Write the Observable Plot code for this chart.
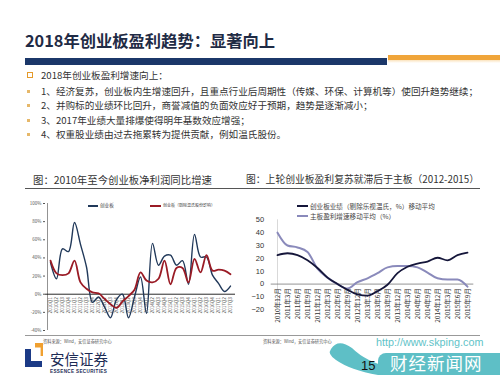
<!DOCTYPE html>
<html><head><meta charset="utf-8">
<script src="https://cdn.jsdelivr.net/npm/d3@7"></script>
<script src="https://cdn.jsdelivr.net/npm/@observablehq/plot@0.6"></script>
<style>
html,body{margin:0;padding:0;}
body{width:500px;height:375px;position:relative;overflow:hidden;background:#fff;font-family:"Noto Sans CJK SC","Noto Sans",sans-serif;}
.a{position:absolute;white-space:nowrap;}
.b{font-size:9.6px;color:#333;line-height:12px;left:41px;}
.dot{position:absolute;left:27px;width:2.5px;height:2.5px;background:#e6b86a;}
svg{overflow:visible;}
</style></head><body>
<script>
// ---- data ----
const leftCategories = ["2010Q1","2010Q2","2010Q3","2010Q4","2011Q1","2011Q2","2011Q3","2011Q4","2012Q1","2012Q2","2012Q3","2012Q4","2013Q1","2013Q2","2013Q3","2013Q4","2014Q1","2014Q2","2014Q3","2014Q4","2015Q1","2015Q2","2015Q3","2015Q4","2016Q1","2016Q2","2016Q3","2016Q4","2017Q1","2017Q2","2017Q3"];
const gemGrowth = [35,17,50,47,79,55,30,-9,-3,-14,-26,-6,0,-26,-3,19,-21,56,32,42,43,32,37,11,66,41,41,21,12,3,9];
const gemExWensGrowth = [37,23,21,23,37,13,6,2,1,-5,-11,-15,-8,-2,5,24,15,13,17,37,11,29,29,13,39,24,43,26,27,26,22];
const leftYTicks = [-40,-20,0,20,40,60,80,100];
const leftSeriesNames = ["创业板","创业板（剔除温氏股份影响）"];

const rightCategories = ["2010年12月","2011年3月","2011年6月","2011年9月","2011年12月","2012年3月","2012年6月","2012年9月","2012年12月","2013年3月","2013年6月","2013年9月","2013年12月","2014年3月","2014年6月","2014年9月","2014年12月","2015年3月","2015年6月","2015年9月"];
const gemMovingAvg = [22.5,24,22.5,18.5,12.5,5,0,-4.5,-8,-9,-5.5,-0.5,8.5,13.5,16,17.5,20.5,18.5,22.5,24.5];
const mainBoardMovingAvg = [40,30,28.5,25,12,5,0,-3.5,1.5,4.5,8.5,13,14,14,13,9,4.5,3.5,3.5,-2];
const rightYTicks = [-20,-10,0,10,20,30,40,50];
const rightSeriesNames = ["创业板业绩（剔除乐视温氏，%）移动平均","主板盈利增速移动平均（%）"];

const blue = "#21395a", red = "#9a1b25", dark = "#15163a", lav = "#8a8abb";
</script>

<!-- title and header bars -->
<div class="a" style="left:25px;top:29px;font-size:16.3px;font-weight:bold;color:#1f2b45;line-height:22px;">2018年创业板盈利趋势：显著向上</div>
<div class="a" style="left:25px;top:58px;width:362px;height:7px;background:#1b3769;"></div>
<div class="a" style="left:388px;top:55px;width:112px;height:5px;background:#f0a53a;"></div>
<div class="a" style="left:388px;top:60px;width:112px;height:3px;background:linear-gradient(#fbe3bd,#fff);"></div>

<!-- bullets -->
<div class="a" style="left:27px;top:72px;width:4px;height:4px;border:1.3px solid #e59a2a;"></div>
<div class="a b" style="top:69px;">2018年创业板盈利增速向上：</div>
<div class="dot" style="top:90px;"></div>
<div class="a b" style="top:85px;">1、经济复苏，创业板内生增速回升，且重点行业后周期性（传媒、环保、计算机等）使回升趋势继续；</div>
<div class="dot" style="top:104px;"></div>
<div class="a b" style="top:99px;">2、并购标的业绩环比回升，商誉减值的负面效应好于预期，趋势是逐渐减小；</div>
<div class="dot" style="top:119px;"></div>
<div class="a b" style="top:114px;">3、2017年业绩大量排爆使得明年基数效应增强；</div>
<div class="dot" style="top:133px;"></div>
<div class="a b" style="top:128px;">4、权重股业绩由过去拖累转为提供贡献，例如温氏股份。</div>

<!-- chart titles -->
<div class="a" style="left:33px;top:173px;font-size:10.4px;color:#333;line-height:14px;">图：2010年至今创业板净利润同比增速</div>
<div class="a" style="left:246px;top:172px;font-size:9.8px;color:#333;line-height:14px;">图：上轮创业板盈利复苏就滞后于主板（2012-2015）</div>
<div class="a" style="left:25px;top:188px;width:455px;height:1px;background:#555;"></div>

<div id="left" class="a" style="left:20px;top:195px;"></div>
<div id="right" class="a" style="left:250px;top:195px;"></div>

<!-- legends -->
<div id="legL1" class="a" style="left:88px;top:202px;font-size:4.6px;color:#444;line-height:7px;"></div>
<div id="legL2" class="a" style="left:150px;top:202px;font-size:4px;color:#444;line-height:7px;"></div>
<div id="legR1" class="a" style="left:297px;top:201px;font-size:6.6px;color:#444;line-height:9px;"></div>
<div id="legR2" class="a" style="left:297px;top:211px;font-size:6.6px;color:#444;line-height:9px;"></div>

<!-- footer -->
<div class="a" style="left:25px;top:335px;width:455px;height:1px;background:#999;"></div>
<div class="a" style="left:43px;top:339px;font-size:4.2px;color:#555;line-height:5px;">资料来源：Wind，安信证券研究中心</div>
<div class="a" style="left:263px;top:339px;font-size:4.2px;color:#555;line-height:5px;">资料来源：Wind，安信证券研究中心</div>

<div class="a" style="left:25px;top:349px;width:6px;height:18px;background:#1b3a86;"></div>
<div class="a" style="left:25px;top:361px;width:17px;height:6px;background:#1b3a86;"></div>
<div class="a" style="left:35px;top:343px;width:8px;height:13px;background:#f0a030;clip-path:polygon(0 0,100% 0,100% 100%,70% 100%,70% 35%,0 35%);"></div>
<div class="a" style="left:50px;top:351px;font-size:14.5px;color:#1d2c55;line-height:15px;">安信证券</div>
<div class="a" style="left:50px;top:368.5px;font-size:4.6px;font-weight:bold;color:#1d2c55;line-height:5px;letter-spacing:0.35px;font-family:'Liberation Sans',sans-serif;">ESSENCE SECURITIES</div>

<svg class="a" style="left:0;top:0;" width="500" height="375">
  <path d="M331,349 Q338,338 352,348 Q366,362 392,368 L392,375 L378,375 Q350,370 336,360 Q327,354 331,349 Z" fill="#5ebfc6"/>
</svg>
<div class="a" style="left:378px;top:353px;width:122px;height:22px;background:#5ebfc6;border-radius:8px 0 0 8px;"></div>
<div class="a" style="left:376px;top:337px;font-size:10.8px;color:#5fc3c8;line-height:11px;font-family:'Liberation Sans',sans-serif;">http://www.skping.com</div>
<div class="a" style="left:390px;top:354px;font-size:17.5px;color:#fff;line-height:17px;letter-spacing:1px;">财经新闻网</div>
<div class="a" style="left:361px;top:358px;font-size:13px;color:#111;line-height:15px;font-family:'Liberation Sans',sans-serif;">15</div>

<script>
const cjk = "'Noto Sans CJK SC','Noto Sans',sans-serif";
const leftData = leftCategories.map((c, i) => ({c, gem: gemGrowth[i], ex: gemExWensGrowth[i]}));
const leftPlot = Plot.plot({
  width: 230, height: 140,
  marginLeft: 25, marginRight: 15, marginTop: 8, marginBottom: 5,
  x: {type: "point", domain: leftCategories, padding: 0.5, axis: null},
  y: {domain: [-40, 100], axis: null},
  style: {fontFamily: cjk, background: "transparent", overflow: "visible"},
  marks: [
    Plot.ruleX([leftCategories[0]], {dx: -3, stroke: "#777", strokeWidth: 0.8}),
    Plot.axisY({ticks: leftYTicks, tickFormat: d => d + "%", tickSize: 2, tickPadding: 2, fontSize: 4.5, color: "#555"}),
    Plot.ruleY([0], {stroke: "#111", strokeWidth: 0.9}),
    Plot.text(leftCategories, {x: d => d, y: 0, text: d => d, rotate: -90, textAnchor: "end", dy: 3, fontSize: 4.6, fill: "#555"}),
    Plot.line(leftData, {x: "c", y: "gem", stroke: blue, strokeWidth: 1.4, curve: "catmull-rom"}),
    Plot.line(leftData, {x: "c", y: "ex", stroke: red, strokeWidth: 1.8, curve: "catmull-rom"})
  ]
});
document.getElementById("left").appendChild(leftPlot);

const rightData = rightCategories.map((c, i) => ({c, gem: gemMovingAvg[i], main: mainBoardMovingAvg[i]}));
const rightPlot = Plot.plot({
  width: 240, height: 140,
  marginLeft: 20.7, marginRight: 16.7, marginTop: 24.3, marginBottom: 25.7,
  x: {type: "point", domain: rightCategories, padding: 0, axis: null},
  y: {domain: [-20, 50], axis: null},
  style: {fontFamily: cjk, background: "transparent", overflow: "visible"},
  marks: [
    Plot.ruleX([rightCategories[0]], {stroke: "#cfcfcf", strokeWidth: 0.8}),
    Plot.axisY({ticks: rightYTicks, tickSize: 0, tickPadding: 7, fontSize: 7.5, color: "#333", fontFamily: "'Liberation Sans',sans-serif"}),
    Plot.ruleY([0], {stroke: "#777", strokeWidth: 0.8}),
    Plot.text(rightCategories, {x: d => d, y: 0, text: d => d, rotate: -90, textAnchor: "end", dy: 4, fontSize: 6.5, fill: "#333"}),
    Plot.line(rightData, {x: "c", y: "main", stroke: lav, strokeWidth: 2, curve: "monotone-x"}),
    Plot.line(rightData, {x: "c", y: "gem", stroke: dark, strokeWidth: 1.8, curve: "monotone-x"})
  ]
});
document.getElementById("right").appendChild(rightPlot);

function legend(id, color, w, sw, name) {
  const el = document.getElementById(id);
  el.innerHTML = `<span style="display:inline-block;width:${w}px;height:${sw}px;background:${color};vertical-align:middle;margin-right:2px;"></span><span style="vertical-align:middle;">${name}</span>`;
}
legend("legL1", blue, 10, 1.5, leftSeriesNames[0]);
legend("legL2", red, 11, 1.8, leftSeriesNames[1]);
legend("legR1", dark, 11, 1.6, rightSeriesNames[0]);
legend("legR2", lav, 11, 1.8, rightSeriesNames[1]);
</script>
</body></html>
